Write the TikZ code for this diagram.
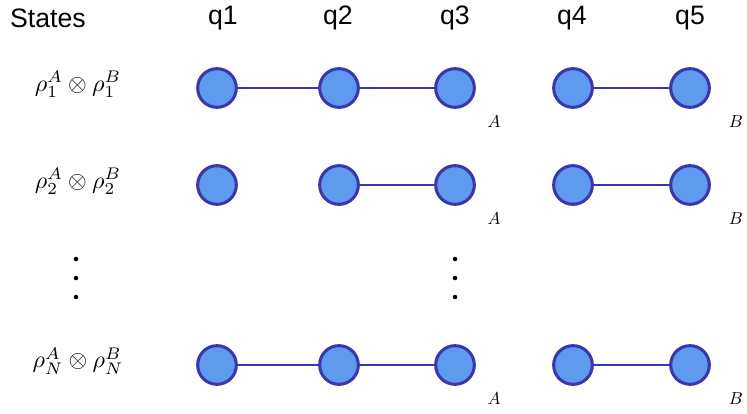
\documentclass[tikz,border=0pt]{standalone}
\usepackage{fontspec}
\setsansfont{Liberation Sans}
\begin{document}
\begin{tikzpicture}[x=0.75pt,y=-0.75pt,
  qb/.style={circle,draw=qdark,fill=qfill,line width=2.3pt,minimum size=29pt,inner sep=0pt},
  link/.style={draw=qdark,line width=2.2pt},
  hdr/.style={font=\sffamily\fontsize{20}{22}\selectfont},
  lbl/.style={transform shape,scale=1.8},
  sub/.style={transform shape,scale=1.3}]
\definecolor{qdark}{HTML}{3B36B0}
\definecolor{qfill}{HTML}{5E9BEF}
\useasboundingbox (0,0) rectangle (747,414);
\node[hdr] (hs) at (48,18) {States};
\foreach \n/\x in {1/223,2/338,3/455,4/572,5/690} \node[hdr] (h\n) at (\x,18) {q\n};
\foreach \r/\y/\k in {a/88/1,b/185/2,c/365/N}{
  \node[lbl] (l\r) at (78,\y-4) {$\rho_{\k}^{A}\otimes\rho_{\k}^{B}$};
  \foreach \n/\x in {1/217,2/339,3/455,4/573,5/690} \node[qb] (\r\n) at (\x,\y) {};
  \node[sub] (A\r) at (494,\y+34) {$A$};
  \node[sub] (B\r) at (736,\y+34) {$B$};
}
\draw[link] (a1)--(a2) (a2)--(a3) (a4)--(a5);
\draw[link] (b2)--(b3) (b4)--(b5);
\draw[link] (c1)--(c2) (c2)--(c3) (c4)--(c5);
\foreach \x in {76,455} \foreach \y in {259,278,297} \fill (\x,\y) circle (1.7pt);
\end{tikzpicture}
\end{document}
